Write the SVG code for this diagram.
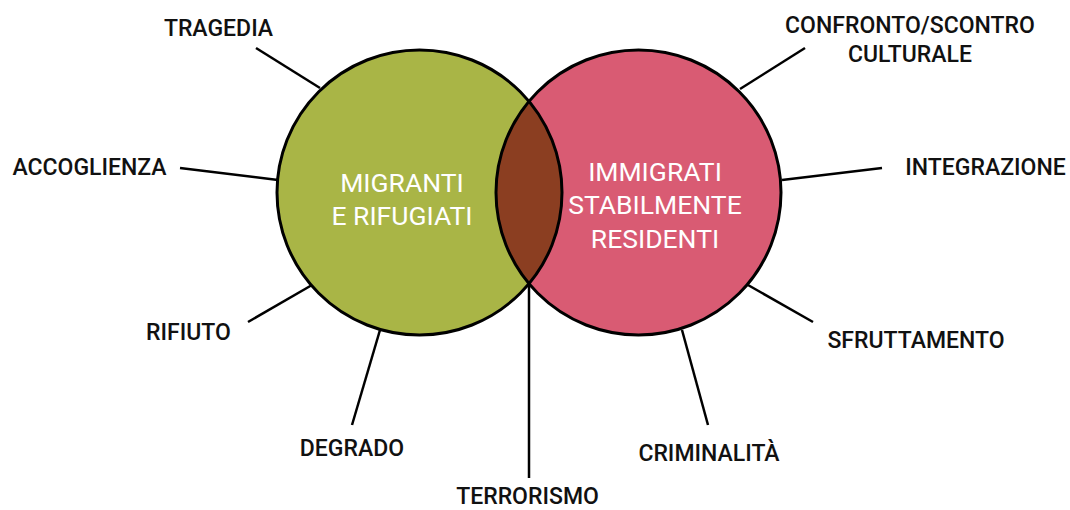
<svg xmlns="http://www.w3.org/2000/svg" width="1070" height="510" viewBox="0 0 1070 510">
  <style>
    .lbl { font-family: Roboto, "Liberation Sans", sans-serif; font-weight: 500; font-size: 23px; fill: #111111; text-anchor: middle; }
    .ctr { font-family: Roboto, "Liberation Sans", sans-serif; font-weight: 400; font-size: 26.5px; fill: #ffffff; text-anchor: middle; }
    .ring { fill: none; stroke: #000000; stroke-width: 3; }
    .conn { stroke: #000000; stroke-width: 2.5; fill: none; }
  </style>
  <rect width="1070" height="510" fill="#ffffff"/>
  <g id="connectors">
    <line class="conn" x1="256" y1="48" x2="320" y2="88"/>
    <line class="conn" x1="180" y1="168" x2="278" y2="180"/>
    <line class="conn" x1="248" y1="322" x2="312" y2="285"/>
    <line class="conn" x1="352" y1="425" x2="380" y2="330"/>
    <line class="conn" x1="529" y1="478" x2="529" y2="284"/>
    <line class="conn" x1="708" y1="425" x2="682" y2="330"/>
    <line class="conn" x1="813" y1="322" x2="748" y2="285"/>
    <line class="conn" x1="882" y1="168" x2="782" y2="180"/>
    <line class="conn" x1="805" y1="48" x2="740" y2="89"/>
  </g>
  <g id="migranti">
    <circle cx="419.5" cy="192.5" r="142.5" fill="#A9B546"/>
  </g>
  <g id="immigrati">
    <circle cx="638.5" cy="192.5" r="142.5" fill="#D95B73"/>
  </g>
  <g id="overlap">
    <path d="M529,101.3 A142.5,142.5 0 0 0 529,283.7 A142.5,142.5 0 0 0 529,101.3 Z" fill="#8B3E21"/>
  </g>
  <g id="rings">
    <circle class="ring" cx="419.5" cy="192.5" r="142.5"/>
    <circle class="ring" cx="638.5" cy="192.5" r="142.5"/>
  </g>
  <g id="migranti-label">
    <text class="ctr" x="402" y="192">MIGRANTI</text>
    <text class="ctr" x="402" y="225">E RIFUGIATI</text>
  </g>
  <g id="immigrati-label">
    <text class="ctr" x="655" y="181">IMMIGRATI</text>
    <text class="ctr" x="655" y="214">STABILMENTE</text>
    <text class="ctr" x="655" y="248">RESIDENTI</text>
  </g>
  <g id="tragedia"><text class="lbl" x="218.5" y="36">TRAGEDIA</text></g>
  <g id="accoglienza"><text class="lbl" x="89.5" y="175">ACCOGLIENZA</text></g>
  <g id="rifiuto"><text class="lbl" x="188.5" y="340">RIFIUTO</text></g>
  <g id="degrado"><text class="lbl" x="352" y="456">DEGRADO</text></g>
  <g id="terrorismo"><text class="lbl" x="527.5" y="504">TERRORISMO</text></g>
  <g id="criminalita"><text class="lbl" x="709" y="461">CRIMINALITÀ</text></g>
  <g id="sfruttamento"><text class="lbl" x="916" y="348">SFRUTTAMENTO</text></g>
  <g id="integrazione"><text class="lbl" x="985.5" y="175">INTEGRAZIONE</text></g>
  <g id="confronto">
    <text class="lbl" x="910" y="33">CONFRONTO/SCONTRO</text>
    <text class="lbl" x="910" y="62">CULTURALE</text>
  </g>
</svg>
